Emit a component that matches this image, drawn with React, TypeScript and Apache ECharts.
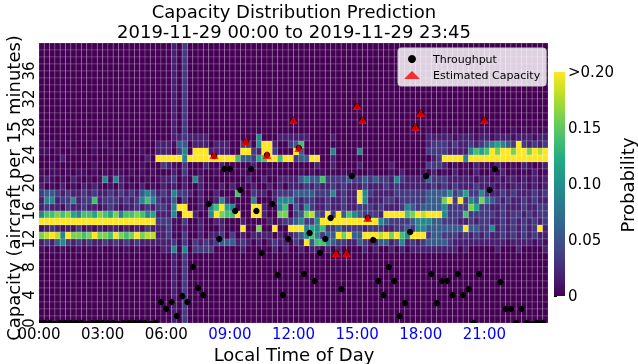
import React, { useEffect, useRef } from "react";
import * as echarts from "echarts";

// ---------- data ----------
const TIME_TICKS = ["00:00", "03:00", "06:00", "09:00", "12:00", "15:00", "18:00", "21:00"];
const SLOTS = 96; // 15-minute slots
const CAP_ROWS = 40; // capacity levels 0..39

// probability level codes per character
const LEVEL_CODES = [".", "1", "2", "3", "4", "5", "6", "7", "8", "9", "Y"];
const LEVEL_VALUES = [0, 0.007, 0.017, 0.033, 0.058, 0.09, 0.115, 0.14, 0.16, 0.18, 0.2];

// heat map rows, top (capacity 39) to bottom (capacity 0); 8 groups of 12 slots
const EMPTY = "............ ............ .2.3........ ............ ............ ............ ............ ............";
const heatRows: string[] = [
  EMPTY, EMPTY, EMPTY, EMPTY, EMPTY, EMPTY, EMPTY, EMPTY, EMPTY, EMPTY, EMPTY, EMPTY, // 39..28
  "............ ............ .2.3........ ............ ............ ............ .1..1.1..1.1 1.1..1.1.1.1", // 27
  "............ ............ .2232222.... .....5...222 222....2.... ............ .22222122212 212221222122", // 26
  "1.1..1....1. 1...1.....22 2144.222.222 ..33.5YY2..3 47.......... ............ .23332322323 456543Y32323", // 25
  "11.1..1...1. .1.1...1..22 2.35.YYY2222 ..YY32YY3... Y4.....5.... 5........... .33332222576 7Y8YY8YY8Y9Y", // 24
  "....2....... ........2.YY YYY5YYYYYYYY Y744367YY7YY 344YY..2.... ............ ..23YYYY5YYY YYYYYYYYYYYY", // 23
  "..1.......1. .......1...3 21.3...2..2. ....2....... ....2..2.... 2.....2..... .3332.1.1.21 1.21.1.21.12", // 22
  "1.11.1.11.1. 1.11.1.1.1.. .2.3..1..1.. ..1....1.... .1.1.1.1.1.. ..1...1.2... 1.2.1.2.1.2. .1.2.1.1.2.1", // 21
  "121.1.21.1.1 51521.1.1.12 23.2.52..... ...2..2..222 245447333343 343433253222 243332222212 212122121212", // 20
  "2.1.2.1.2121 .1.2.1.2.1.2 12.2..2.1.2. 2.1.2..2.2.2 223232232322 232223232222 223232322232 221212221212", // 19
  "344323223232 232323245423 25332.2..2.. .7..322.2333 444433352322 Y53222233333 344445346335 322323222323", // 18
  "255233523372 333232357532 24.3..2..252 ....5...2555 323322322322 Y52223323333 34448Y3Y3548 543232232322", // 17
  "232213223221 232122323233 25YY..2.57Y6 5...YY2..57. 425322322322 333232223543 444453333863 322322232233", // 16
  "577878657768 768577875622 25.YY2..5Y87 7Y..YY2..88. 348943Y3Y475 43332YYYY78Y 9YYY53337333 332323323233", // 15
  "YYYYYYYYYYYY YYYYYYYYYY33 31.3..2..22. ..2....2.233 45335YYYYYYY YYYY54333345 554433322323 322323232323", // 14
  "123212131212 122121213222 31.2..2...2. ..Y..8..Y..Y YY5657334333 323332233435 54444444Y443 3523232323Y2", // 13
  "89Y95Y8878Y8 87Y878Y89922 31.3..2.223. 3.2.2222.2.2 34575344Y8Y4 4YYY9Y8Y75YY Y34433323232 322323232322", // 12
  "232453232322 323232322222 23.3.3232344 4232.2.2322. 32Y477543322 432244235232 344443222222 222212222121", // 11
  "1.1.1..1.1.1 ..1.1.1..1.2 25.5.3333... ..2.....2.2. .2.22.2.2... .2.2..2.2.22 2222222.2... ..2...2....2", // 10
  EMPTY, EMPTY, EMPTY, EMPTY, EMPTY, EMPTY, EMPTY, EMPTY, EMPTY, EMPTY, // 9..0
];

const throughput: number[] = [
  0, 0, 0, 0, 0, 0, 0, 0, 0, 0, 0, 0, 0, 0, 0, 0, 0, 0, 0, 0, 0, 0, 0,
  3, 2, 3, 1, 4, 3, 8, 5, 4, 17,
  24, 12, 22, 22, 16, 19, 26, 22, 16, 10,
  24, 17, 7, 4, 12, 29, 25, 7, 13, 6,
  10, 12, 15, 10, 5, 10, 21, 31, 29, 15,
  12, 6, 4, 8, 6, 1, 3, 13, 28, 30,
  21, 7, 3, 6, 6, 4, 7, 4, 5, 0,
  7, 29, 19, 22, 6, 2, 2, 0, 2, 0,
  0, 0, 0,
];

const capacitySlots: number[] = [33, 39, 43, 48, 49, 56, 58, 60, 61, 62, 71, 72, 84];
const capacityValues: number[] = [24, 26, 24, 29, 25, 10, 10, 31, 29, 15, 28, 30, 29];

const COLORBAR_TICKS = [0, 0.05, 0.1, 0.15, 0.2];

// ---------- styling ----------
const VIRIDIS = ["#440154", "#482475", "#414487", "#355f8d", "#2a788e", "#21918c", "#22a884", "#44bf70", "#7ad151", "#bddf26", "#fde725"];
const FONT = "DejaVu Sans";

function hexToRgb(h: string): number[] {
  return [parseInt(h.slice(1, 3), 16), parseInt(h.slice(3, 5), 16), parseInt(h.slice(5, 7), 16)];
}
const VIRIDIS_RGB = VIRIDIS.map(hexToRgb);
function viridis(v: number, vmax: number): string {
  const t = Math.max(0, Math.min(1, v / vmax)) * (VIRIDIS_RGB.length - 1);
  const i = Math.min(VIRIDIS_RGB.length - 2, Math.floor(t));
  const f = t - i;
  const a = VIRIDIS_RGB[i];
  const b = VIRIDIS_RGB[i + 1];
  const c = a.map((x, j) => Math.round(x + (b[j] - x) * f));
  return `rgb(${c[0]},${c[1]},${c[2]})`;
}

function buildHeatData(): number[][] {
  const out: number[][] = [];
  heatRows.forEach((raw, r) => {
    let row = raw.replace(/\s+/g, "");
    if (row.length < SLOTS) row = row + ".".repeat(SLOTS - row.length);
    const cap = CAP_ROWS - 1 - r;
    for (let i = 0; i < SLOTS; i++) {
      const idx = LEVEL_CODES.indexOf(row[i]);
      out.push([i, cap, idx >= 0 ? LEVEL_VALUES[idx] : 0]);
    }
  });
  return out;
}

export default function App() {
  const ref = useRef<HTMLDivElement>(null);

  useEffect(() => {
    document.body.style.margin = "0";
    if (!ref.current) return;
    const chart = echarts.init(ref.current, undefined, { renderer: "svg" });
    const heatData = buildHeatData();
    const vmax = COLORBAR_TICKS[COLORBAR_TICKS.length - 1];

    const option: any = {
      animation: false,
      textStyle: { fontFamily: FONT },
      title: {
        text: "Capacity Distribution Prediction\n2019-11-29 00:00 to 2019-11-29 23:45",
        left: 294,
        top: 1,
        textAlign: "center",
        padding: 0,
        textStyle: { fontSize: 18, fontWeight: "normal", lineHeight: 20, color: "#000", fontFamily: FONT },
      },
      legend: {
        orient: "vertical",
        left: 398,
        top: 48,
        padding: [5, 6, 5, 6],
        itemWidth: 16,
        itemHeight: 8,
        itemGap: 4,
        backgroundColor: "rgba(255,255,255,0.82)",
        borderColor: "#cccccc",
        borderWidth: 1,
        borderRadius: 3,
        textStyle: { fontSize: 11, color: "#000", fontFamily: FONT, lineHeight: 12, padding: [0, 0, 0, 8] },
        data: [
          { name: "Throughput", icon: "circle" },
          { name: "Estimated Capacity", icon: "triangle" },
        ],
      },
      grid: [
        { left: 39, top: 43, width: 509, height: 280 },
        { left: 554, top: 72, width: 11, height: 224 },
      ],
      xAxis: [
        {
          type: "value",
          gridIndex: 0,
          min: 0,
          max: SLOTS,
          interval: 12,
          axisLine: { show: false },
          axisTick: { show: false },
          splitLine: { show: false },
          axisLabel: {
            showMaxLabel: false,
            fontSize: 15,
            margin: 3,
            fontFamily: FONT,
            formatter: (v: number) => TIME_TICKS[Math.round(v / 12)] ?? "",
            color: (v: any) => (Number(v) >= 36 ? "#0000ff" : "#000000"),
          },
        },
        { type: "value", gridIndex: 1, min: 0, max: 1, show: false },
      ],
      yAxis: [
        {
          type: "value",
          gridIndex: 0,
          min: 0,
          max: CAP_ROWS,
          interval: 4,
          axisLine: { show: false },
          axisTick: { show: false },
          splitLine: { show: false },
          axisLabel: { rotate: 90, fontSize: 15, margin: 3, showMaxLabel: false, color: "#000", fontFamily: FONT },
        },
        {
          type: "value",
          gridIndex: 1,
          position: "right",
          min: COLORBAR_TICKS[0],
          max: vmax,
          interval: 0.05,
          axisLine: { show: false },
          axisTick: { show: true, length: 3, lineStyle: { color: "#000" } },
          splitLine: { show: false },
          axisLabel: {
            fontSize: 15,
            margin: 3,
            color: "#000",
            fontFamily: FONT,
            formatter: (v: number) => (v <= 1e-9 ? "0" : v >= vmax - 1e-9 ? ">0.20" : v.toFixed(2)),
          },
        },
      ],
      series: [
        {
          type: "custom",
          name: "heat",
          xAxisIndex: 0,
          yAxisIndex: 0,
          clip: true,
          silent: true,
          z: 1,
          data: heatData,
          renderItem: (params: any, api: any) => {
            const i = api.value(0);
            const k = api.value(1);
            const a = api.coord([i, k + 1]);
            const b = api.coord([i + 1, k]);
            return {
              type: "rect",
              shape: { x: a[0], y: a[1], width: b[0] - a[0], height: b[1] - a[1] },
              style: { fill: viridis(api.value(2), vmax), stroke: "rgba(255,255,255,0.27)", lineWidth: 0.6 },
            };
          },
        },
        {
          type: "custom",
          name: "Throughput",
          xAxisIndex: 0,
          yAxisIndex: 0,
          clip: true,
          z: 3,
          itemStyle: { color: "#000000" },
          data: throughput.map((v, i) => [i, v]),
          renderItem: (params: any, api: any) => {
            const c = api.coord([api.value(0), api.value(1)]);
            return { type: "circle", shape: { cx: c[0], cy: c[1], r: 3.2 }, style: { fill: "#000000" } };
          },
        },
        {
          type: "scatter",
          name: "Estimated Capacity",
          xAxisIndex: 0,
          yAxisIndex: 0,
          symbol: "triangle",
          symbolSize: [9, 8],
          z: 4,
          itemStyle: { color: "#ff0000" },
          data: capacitySlots.map((s, j) => [s, capacityValues[j]]),
        },
        {
          type: "custom",
          name: "colorbar",
          xAxisIndex: 1,
          yAxisIndex: 1,
          silent: true,
          data: [[0, 0]],
          renderItem: (params: any, api: any) => {
            const a = api.coord([0, vmax]);
            const b = api.coord([1, COLORBAR_TICKS[0]]);
            return {
              type: "rect",
              shape: { x: a[0], y: a[1], width: b[0] - a[0], height: b[1] - a[1] },
              style: {
                fill: new echarts.graphic.LinearGradient(
                  0, 1, 0, 0,
                  VIRIDIS.map((c, i) => ({ offset: i / (VIRIDIS.length - 1), color: c }))
                ),
              },
            };
          },
        },
      ],
      graphic: [
        {
          type: "text",
          x: 13,
          y: 188,
          rotation: Math.PI / 2,
          style: { text: "Capacity (aircraft per 15 minutes)", font: `18px "${FONT}"`, fill: "#000", align: "center", verticalAlign: "middle" },
        },
        {
          type: "text",
          x: 294,
          y: 354,
          style: { text: "Local Time of Day", font: `18px "${FONT}"`, fill: "#000", align: "center", verticalAlign: "middle" },
        },
        {
          type: "text",
          x: 627,
          y: 185,
          rotation: Math.PI / 2,
          style: { text: "Probability", font: `18px "${FONT}"`, fill: "#000", align: "center", verticalAlign: "middle" },
        },
      ],
    };

    chart.setOption(option);
    return () => chart.dispose();
  }, []);

  return <div ref={ref} style={{ position: "fixed", left: 0, top: 0, width: 638, height: 364 }} />;
}
